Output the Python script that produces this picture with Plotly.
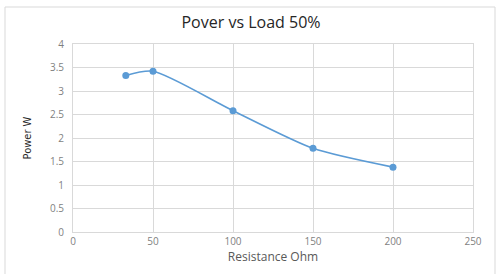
import plotly.graph_objects as go

resistance = [33, 50, 100, 150, 200]
power = [3.33, 3.42, 2.58, 1.78, 1.38]

title_text = "Pover vs Load 50%"
x_title = "Resistance Ohm"
y_title = "Power W"

W, H = 496, 274
ml, mr, mt, mb = 73, 23, 44, 42
pw, ph = W - ml - mr, H - mt - mb

fig = go.Figure()
fig.add_trace(go.Scatter(
    x=resistance, y=power, mode="lines+markers",
    line=dict(color="#5B9BD5", width=1.6, shape="spline", smoothing=0.7),
    marker=dict(color="#5B9BD5", size=7),
    showlegend=False,
))

tick_font = dict(family="Open Sans, sans-serif", size=10, color="#7f7f7f")
fig.update_layout(
    width=W, height=H,
    margin=dict(l=ml, r=mr, t=mt, b=mb),
    paper_bgcolor="white", plot_bgcolor="white",
    title=dict(text=title_text, x=251 / W, xref="container", xanchor="center",
               y=1 - 22 / H, yref="container", yanchor="middle",
               font=dict(family="Open Sans, sans-serif", size=16, color="#262626")),
    xaxis=dict(range=[0, 250], dtick=50, tick0=0, showgrid=True, gridcolor="#d9d9d9",
               gridwidth=1, zeroline=False, showline=True, linecolor="#d9d9d9",
               mirror=True, ticks="", tickfont=tick_font,
               title=dict(text=x_title, standoff=2,
                          font=dict(family="Open Sans, sans-serif", size=12, color="#595959"))),
    yaxis=dict(range=[0, 4], dtick=0.5, tick0=0, showgrid=True, gridcolor="#d9d9d9",
               gridwidth=1, zeroline=False, showline=True, linecolor="#d9d9d9",
               mirror=True, ticks="", tickfont=tick_font, ticklabelstandoff=6,
               title=dict(text=y_title, standoff=16,
                          font=dict(family="DejaVu Sans Condensed, Liberation Sans Narrow, sans-serif",
                                    size=11, color="#262626"))),
)

# outer chart border
fig.add_shape(type="rect", xref="paper", yref="paper",
              x0=(5 - ml) / pw, x1=(W - 1 - ml) / pw,
              y0=(mt + ph - (H + 5)) / ph, y1=(mt + ph - 7) / ph,
              line=dict(color="#d9d9d9", width=1), fillcolor="rgba(0,0,0,0)", layer="below")

fig.write_html("out.html", config={"displayModeBar": False},
               post_script="document.body.style.margin='0';document.body.style.padding='0';")
